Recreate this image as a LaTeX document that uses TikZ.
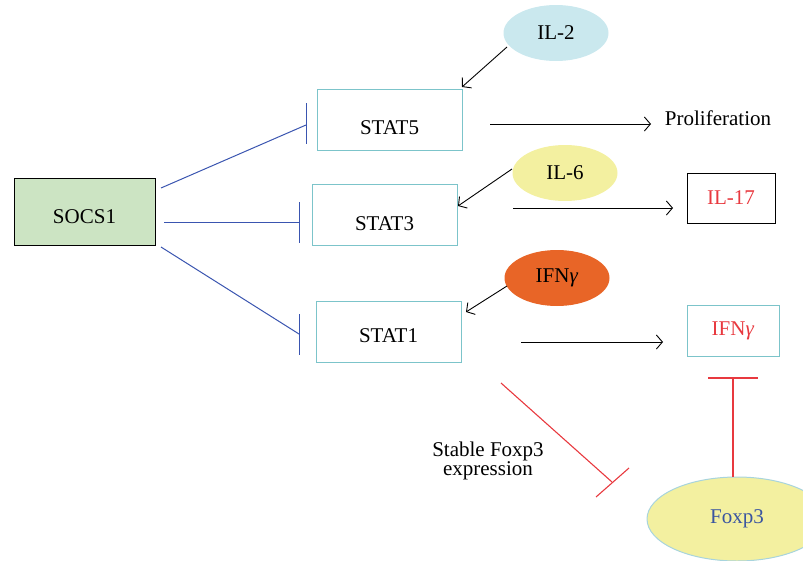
\documentclass[tikz,border=0pt]{standalone}
\usepackage{fontspec}
\setmainfont{Liberation Serif}
\usetikzlibrary{arrows.meta,shapes.geometric}
\definecolor{tealc}{HTML}{7CC4CA}
\definecolor{bluel}{HTML}{3A55B0}
\definecolor{greenf}{HTML}{CCE4C3}
\definecolor{ilblue}{HTML}{CAE8EE}
\definecolor{ilyel}{HTML}{F3F0A0}
\definecolor{ifnor}{HTML}{E86527}
\definecolor{redl}{HTML}{E8393F}
\definecolor{foxtext}{HTML}{3A55A0}
\definecolor{foxedge}{HTML}{A8D4DD}
\begin{document}
\begin{tikzpicture}[x=1pt,y=-1pt,
  every node/.style={font=\fontsize{21}{19}\selectfont, inner sep=0pt},
  statbox/.style={draw=tealc, line width=1pt, minimum width=145pt, minimum height=61pt, text depth=0pt},
  oval/.style={ellipse, minimum width=105pt, minimum height=56pt},
  inhib/.style={draw=bluel, line width=1pt},
  redinh/.style={draw=redl, line width=1.1pt},
  arr/.style={draw=black, line width=0.9pt, -{Straight Barb[length=6pt,width=14pt,line width=0.9pt]}}
]
\useasboundingbox (0,0) rectangle (803,560);
\clip (0,0) rectangle (803,560);

% nodes
\node[draw=black, fill=greenf, line width=1pt, minimum width=141pt, minimum height=67pt, text height=24pt, text depth=0pt] (socs1) at (84.5,211.5) {SOCS1};
\node[statbox, text height=30pt] (stat5) at (389.5,119.5) {STAT5};
\node[statbox, text height=32pt] (stat3) at (384.5,214.5) {STAT3};
\node[statbox, text height=21pt] (stat1) at (388.5,332) {STAT1};

\node[oval, fill=ilblue] (il2) at (556,33) {IL-2};
\node[oval, fill=ilyel] (il6) at (565,173) {IL-6};
\node[oval, fill=ifnor] (ifn) at (557,278) {IFN\textit{γ}};

\node (prolif) at (718,118) {Proliferation};
\node[draw=black, line width=1pt, minimum width=88pt, minimum height=50pt, text=redl] (il17) at (731,198) {IL-17};
\node[draw=tealc, line width=1pt, minimum width=92pt, minimum height=51pt, text=redl] (ifnbox) at (733,331) {IFN\textit{γ}};

\node[ellipse, draw=foxedge, line width=1pt, fill=ilyel, minimum width=180pt, minimum height=84pt, text=foxtext] (foxp3) at (737,519) {Foxp3};

\node[align=center] (stable) at (488,461) {Stable Foxp3\\expression};

% coordinates for connector ends
\coordinate (s5a) at (161,188);
\coordinate (s5b) at (306,125);
\coordinate (s5t) at (306,103);
\coordinate (s5u) at (306,144);
\coordinate (s3a) at (164,222);
\coordinate (s3b) at (299,222);
\coordinate (s3t) at (299,202);
\coordinate (s3u) at (299,243);
\coordinate (s1a) at (161,247);
\coordinate (s1b) at (299,334);
\coordinate (s1t) at (299,314);
\coordinate (s1u) at (299,355);

\coordinate (il2a) at (507,47);
\coordinate (il2b) at (462,87);
\coordinate (il6a) at (512,169);
\coordinate (il6b) at (458,206);
\coordinate (ifna) at (507,286);
\coordinate (ifnb) at (466,312);

\coordinate (p5a) at (490,124);
\coordinate (p5b) at (651,124);
\coordinate (p3a) at (513,208);
\coordinate (p3b) at (673,208);
\coordinate (p1a) at (521,342);
\coordinate (p1b) at (663,342);

\coordinate (ra) at (501,383);
\coordinate (rb) at (612,482);
\coordinate (rt) at (596,497);
\coordinate (ru) at (629,468);
\coordinate (fa) at (733,477);
\coordinate (fb) at (733,378);
\coordinate (ft) at (708,378);
\coordinate (fu) at (758,378);

% SOCS1 inhibitions
\draw[inhib] (s5a) -- (s5b);
\draw[inhib] (s5t) -- (s5u);
\draw[inhib] (s3a) -- (s3b);
\draw[inhib] (s3t) -- (s3u);
\draw[inhib] (s1a) -- (s1b);
\draw[inhib] (s1t) -- (s1u);

% cytokine arrows
\draw[arr] (il2a) -- (il2b);
\draw[arr] (il6a) -- (il6b);
\draw[arr] (ifna) -- (ifnb);

% outputs
\draw[arr] (p5a) -- (p5b);
\draw[arr] (p3a) -- (p3b);
\draw[arr] (p1a) -- (p1b);

% red inhibitions
\draw[redinh] (ra) -- (rb);
\draw[redinh] (rt) -- (ru);
\draw[redinh] (fa) -- (fb);
\draw[redinh] (ft) -- (fu);
\end{tikzpicture}
\end{document}
